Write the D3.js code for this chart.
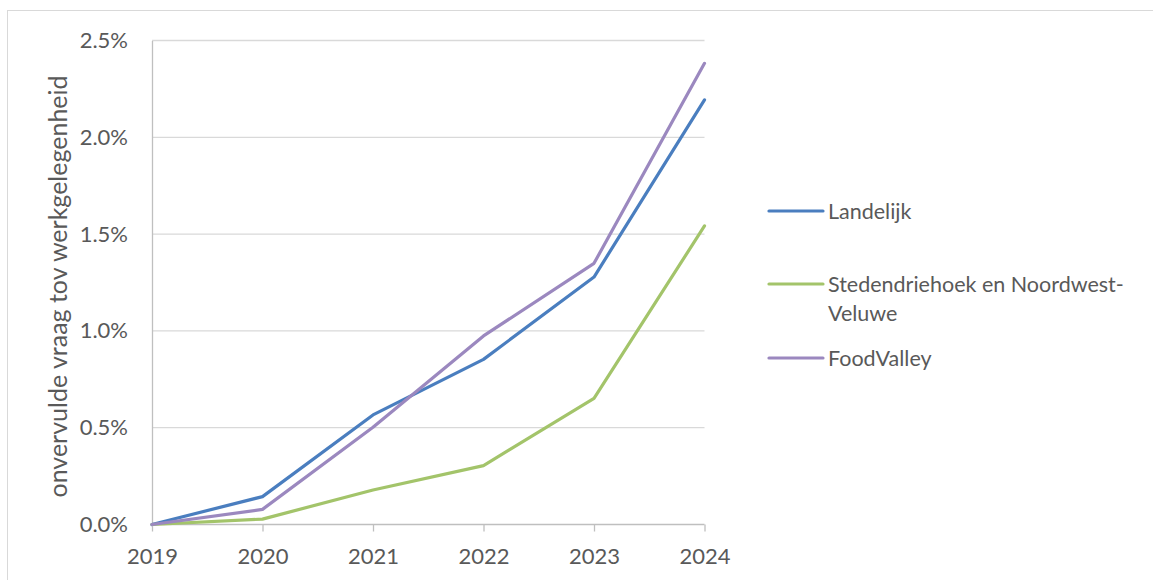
<!DOCTYPE html>
<html>
<head>
<meta charset="utf-8">
<script src="https://cdn.jsdelivr.net/npm/d3@7"></script>
<style>
  html, body { margin: 0; padding: 0; background: #fff; }
  svg { display: block; font-family: Lato, "Open Sans", sans-serif; }
</style>
</head>
<body>
<svg id="chart" width="1153" height="580"></svg>
<script>
const years = [2019, 2020, 2021, 2022, 2023, 2024];
const landelijk = [0.0, 0.144, 0.566, 0.853, 1.278, 2.193];
const stedendriehoek = [0.0, 0.028, 0.178, 0.304, 0.652, 1.542];
const foodValley = [0.0, 0.078, 0.502, 0.974, 1.349, 2.382];
const yTicks = [0, 0.5, 1.0, 1.5, 2.0, 2.5];
const seriesNames = ["Landelijk", "Stedendriehoek en Noordwest-Veluwe", "FoodValley"];
const seriesColors = ["#4a7ebf", "#a3c46a", "#9b88bf"];
const yTitle = "onvervulde vraag tov werkgelegenheid";

const series = [
  { name: seriesNames[0], values: landelijk, color: seriesColors[0], legendLines: ["Landelijk"] },
  { name: seriesNames[1], values: stedendriehoek, color: seriesColors[1], legendLines: ["Stedendriehoek en Noordwest-", "Veluwe"] },
  { name: seriesNames[2], values: foodValley, color: seriesColors[2], legendLines: ["FoodValley"] }
];

const svg = d3.select("#chart");
const textColor = "#595959";

// outer chart border (top and left visible)
svg.append("rect")
  .attr("x", 7.5).attr("y", 10.5)
  .attr("width", 1300).attr("height", 700)
  .attr("fill", "none").attr("stroke", "#d9d9d9").attr("stroke-width", 1);

const mLeft = 152, mRight = 704.5, mTop = 40.5, mBottom = 524.5;

const x = d3.scalePoint().domain(years).range([mLeft, mRight]);
const y = d3.scaleLinear().domain([0, 2.5]).range([mBottom, mTop]);

// gridlines
svg.append("g").selectAll("line").data(yTicks.filter(d => d > 0)).join("line")
  .attr("x1", mLeft).attr("x2", mRight)
  .attr("y1", d => y(d)).attr("y2", d => y(d))
  .attr("stroke", "#d9d9d9").attr("stroke-width", 1.3);

// y axis
const yAxis = d3.axisLeft(y).tickValues(yTicks).tickFormat(d => d3.format(".1f")(d) + "%").tickSize(0).tickPadding(24);
const yAxisG = svg.append("g").attr("transform", `translate(${mLeft},0)`).call(yAxis);
yAxisG.select(".domain").attr("stroke", "#bfbfbf").attr("stroke-width", 1.3);
yAxisG.selectAll("text")
  .attr("fill", textColor).style("font-size", "22px").style("font-family", "Lato, sans-serif");

// x axis
const xAxis = d3.axisBottom(x).tickSize(7).tickPadding(17).tickFormat(d3.format("d"));
const xAxisG = svg.append("g").attr("transform", `translate(0,${mBottom})`).call(xAxis);
xAxisG.select(".domain").attr("d", `M${mLeft},0H${mRight}`).attr("stroke", "#bfbfbf").attr("stroke-width", 1.3);
xAxisG.selectAll(".tick line").attr("stroke", "#bfbfbf").attr("stroke-width", 1.3);
xAxisG.selectAll("text").attr("fill", textColor).style("font-size", "22px").style("font-family", "Lato, sans-serif");

// y title
svg.append("text")
  .attr("transform", `translate(67,286.5) rotate(-90)`)
  .attr("text-anchor", "middle")
  .attr("fill", textColor)
  .style("font-size", "25px")
  .text(yTitle);

// lines
const line = d3.line().x((d, i) => x(years[i])).y(d => y(d));
svg.append("g").selectAll("path").data(series).join("path")
  .attr("d", d => line(d.values))
  .attr("fill", "none")
  .attr("stroke", d => d.color)
  .attr("stroke-width", 3.2)
  .attr("stroke-linejoin", "round")
  .attr("stroke-linecap", "round");

// legend
const legendY = [211, 284, 358];
const lg = svg.append("g").selectAll("g").data(series).join("g")
  .attr("transform", (d, i) => `translate(769,${legendY[i]})`);
lg.append("line").attr("x1", 0).attr("x2", 54).attr("y1", 0).attr("y2", 0)
  .attr("stroke", d => d.color).attr("stroke-width", 3.2).attr("stroke-linecap", "round");
lg.each(function(d) {
  const t = d3.select(this).append("text")
    .attr("x", 59).attr("y", 0)
    .attr("fill", textColor).style("font-size", "21.5px");
  d.legendLines.forEach((l, j) => {
    t.append("tspan").attr("x", 59).attr("dy", j === 0 ? "0.35em" : "29px").text(l);
  });
});
</script>
</body>
</html>
